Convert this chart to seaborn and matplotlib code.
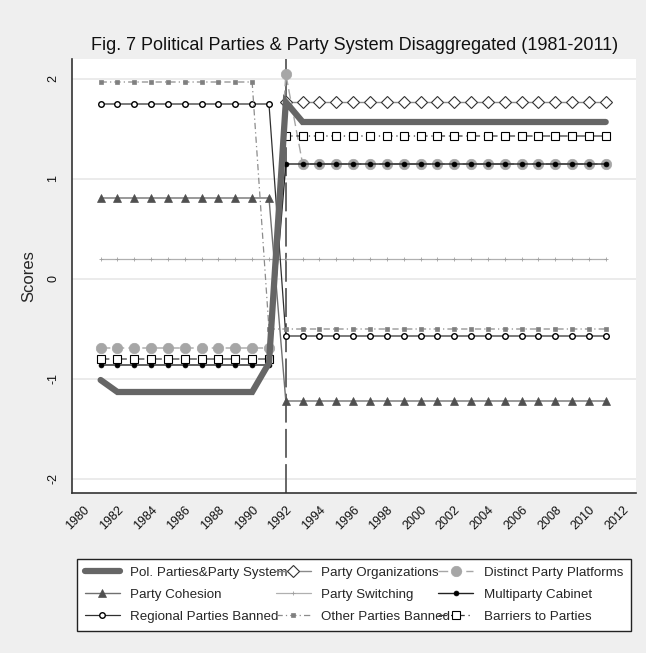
import numpy as np
import pandas as pd
import matplotlib
matplotlib.use("Agg")
import matplotlib.pyplot as plt
import seaborn as sns

years = list(range(1981, 2012))

pol_parties = [-1.01, -1.13, -1.13, -1.13, -1.13, -1.13, -1.13, -1.13, -1.13, -1.13, -0.84,
               1.77, 1.57, 1.57, 1.57, 1.57, 1.57, 1.57, 1.57, 1.57, 1.57,
               1.57, 1.57, 1.57, 1.57, 1.57, 1.57, 1.57, 1.57, 1.57, 1.57]
party_org = [np.nan, np.nan, np.nan, np.nan, np.nan, np.nan, np.nan, np.nan, np.nan, np.nan, np.nan,
             1.77, 1.77, 1.77, 1.77, 1.77, 1.77, 1.77, 1.77, 1.77, 1.77,
             1.77, 1.77, 1.77, 1.77, 1.77, 1.77, 1.77, 1.77, 1.77, 1.77]
distinct_platforms = [-0.69, -0.69, -0.69, -0.69, -0.69, -0.69, -0.69, -0.69, -0.69, -0.69, -0.69,
                      2.05, 1.15, 1.15, 1.15, 1.15, 1.15, 1.15, 1.15, 1.15, 1.15,
                      1.15, 1.15, 1.15, 1.15, 1.15, 1.15, 1.15, 1.15, 1.15, 1.15]
cohesion = [0.81, 0.81, 0.81, 0.81, 0.81, 0.81, 0.81, 0.81, 0.81, 0.81, 0.81,
            -1.22, -1.22, -1.22, -1.22, -1.22, -1.22, -1.22, -1.22, -1.22, -1.22,
            -1.22, -1.22, -1.22, -1.22, -1.22, -1.22, -1.22, -1.22, -1.22, -1.22]
switching = [0.20, 0.20, 0.20, 0.20, 0.20, 0.20, 0.20, 0.20, 0.20, 0.20, 0.20,
             0.20, 0.20, 0.20, 0.20, 0.20, 0.20, 0.20, 0.20, 0.20, 0.20,
             0.20, 0.20, 0.20, 0.20, 0.20, 0.20, 0.20, 0.20, 0.20, 0.20]
multiparty_cabinet = [-0.86, -0.86, -0.86, -0.86, -0.86, -0.86, -0.86, -0.86, -0.86, -0.86, -0.86,
                      1.15, 1.15, 1.15, 1.15, 1.15, 1.15, 1.15, 1.15, 1.15, 1.15,
                      1.15, 1.15, 1.15, 1.15, 1.15, 1.15, 1.15, 1.15, 1.15, 1.15]
regional_banned = [1.75, 1.75, 1.75, 1.75, 1.75, 1.75, 1.75, 1.75, 1.75, 1.75, 1.75,
                   -0.57, -0.57, -0.57, -0.57, -0.57, -0.57, -0.57, -0.57, -0.57, -0.57,
                   -0.57, -0.57, -0.57, -0.57, -0.57, -0.57, -0.57, -0.57, -0.57, -0.57]
other_banned = [1.97, 1.97, 1.97, 1.97, 1.97, 1.97, 1.97, 1.97, 1.97, 1.97, -0.50,
                -0.50, -0.50, -0.50, -0.50, -0.50, -0.50, -0.50, -0.50, -0.50, -0.50,
                -0.50, -0.50, -0.50, -0.50, -0.50, -0.50, -0.50, -0.50, -0.50, -0.50]
barriers = [-0.80, -0.80, -0.80, -0.80, -0.80, -0.80, -0.80, -0.80, -0.80, -0.80, -0.80,
            1.43, 1.43, 1.43, 1.43, 1.43, 1.43, 1.43, 1.43, 1.43, 1.43,
            1.43, 1.43, 1.43, 1.43, 1.43, 1.43, 1.43, 1.43, 1.43, 1.43]

x_ticks = list(range(1980, 2013, 2))
y_ticks = [-2, -1, 0, 1, 2]
event_year = 1992

df = pd.DataFrame({
    "year": years,
    "Pol. Parties&Party System": pol_parties,
    "Party Organizations": party_org,
    "Distinct Party Platforms": distinct_platforms,
    "Party Cohesion": cohesion,
    "Party Switching": switching,
    "Multiparty Cabinet": multiparty_cabinet,
    "Regional Parties Banned": regional_banned,
    "Other Parties Banned": other_banned,
    "Barriers to Parties": barriers,
})

sns.set_style("white")
plt.rcParams["font.family"] = ["Liberation Sans", "DejaVu Sans"]

bg = "#efefef"
fig = plt.figure(figsize=(6.46, 6.53), dpi=100, facecolor=bg)
ax = fig.add_axes([72 / 646, 1 - 493 / 653, (636 - 72) / 646, (493 - 59) / 653])
ax.set_facecolor("white")

# series styles: drawing order, line and marker look
styles = {
    "Party Organizations": dict(color="#8a8a8a", linewidth=1.0, marker="D", markersize=6,
                                markerfacecolor="white", markeredgecolor="#333333",
                                markeredgewidth=0.8, zorder=3),
    "Distinct Party Platforms": dict(color="#a6a6a6", linewidth=1.0, linestyle=(0, (7, 3)),
                                     marker="o", markersize=7.5, markerfacecolor="#a6a6a6",
                                     markeredgecolor="#a6a6a6", markeredgewidth=0.5, zorder=3),
    "Party Cohesion": dict(color="#707070", linewidth=1.0, marker="^", markersize=5.5,
                           markerfacecolor="#505050", markeredgecolor="#505050",
                           markeredgewidth=0.5, zorder=3),
    "Party Switching": dict(color="#b0b0b0", linewidth=0.9, marker="+", markersize=3,
                            markerfacecolor="#a0a0a0", markeredgecolor="#a0a0a0",
                            markeredgewidth=0.6, zorder=3),
    "Multiparty Cabinet": dict(color="#222222", linewidth=1.0, marker="o", markersize=3.5,
                               markerfacecolor="black", markeredgecolor="black",
                               markeredgewidth=0.5, zorder=4),
    "Regional Parties Banned": dict(color="#303030", linewidth=0.9, marker="o", markersize=4,
                                    markerfacecolor="white", markeredgecolor="black",
                                    markeredgewidth=1.0, zorder=4),
    "Other Parties Banned": dict(color="#8c8c8c", linewidth=0.9, linestyle=(0, (5, 2.5, 1, 2.5)),
                                 marker="s", markersize=3.5, markerfacecolor="#808080",
                                 markeredgecolor="#808080", markeredgewidth=0.5, zorder=4),
    "Barriers to Parties": dict(color="#3a3a3a", linewidth=0.9, linestyle=(0, (7, 3, 1, 3)),
                                marker="s", markersize=5.5, markerfacecolor="white",
                                markeredgecolor="black", markeredgewidth=0.8, zorder=4),
    "Pol. Parties&Party System": dict(color="#666666", linewidth=4.5, solid_capstyle="round",
                                      solid_joinstyle="miter", zorder=5),
}

# horizontal grid at the labelled scores
for yv in y_ticks:
    ax.axhline(yv, color="#e6e6e6", linewidth=1.1, zorder=1)

ax.axvline(event_year, color="#5a5a5a", linewidth=1.3, linestyle=(0, (16, 3.5)), zorder=2)

for name, kw in styles.items():
    sub = df[["year", name]].dropna()
    sns.lineplot(data=sub, x="year", y=name, ax=ax, label=name, estimator=None,
                 sort=False, **kw)

ax.set_xlim(1979.3, 2012.8)
ax.set_ylim(-2.14, 2.2)
ax.set_xticks(x_ticks)
ax.set_yticks(y_ticks)
ax.set_xticklabels([str(t) for t in x_ticks], rotation=45, ha="right",
                   rotation_mode="anchor", fontsize=9)
ax.set_yticklabels([str(t) for t in y_ticks], rotation=90, va="center", fontsize=9)
ax.tick_params(axis="both", direction="out", length=6, width=1, color="#333333",
               labelcolor="#111111", pad=3)
ax.tick_params(axis="x", pad=2)
for side in ("top", "right"):
    ax.spines[side].set_visible(False)
for side in ("left", "bottom"):
    ax.spines[side].set_color("#333333")
    ax.spines[side].set_linewidth(1.2)

ax.set_xlabel("")
ax.set_ylabel("Scores", fontsize=12, labelpad=8)
fig.text(0.5495, 1 - 46 / 653, "Fig. 7 Political Parties & Party System Disaggregated (1981-2011)",
         ha="center", va="center", fontsize=13, color="#111111")

# legend laid out row by row in three columns
row_order = ["Pol. Parties&Party System", "Party Organizations", "Distinct Party Platforms",
             "Party Cohesion", "Party Switching", "Multiparty Cabinet",
             "Regional Parties Banned", "Other Parties Banned", "Barriers to Parties"]
handles, labels = ax.get_legend_handles_labels()
lookup = dict(zip(labels, handles))
col_order = [row_order[r * 3 + c] for c in range(3) for r in range(3)]
leg = ax.legend([lookup[n] for n in col_order], col_order, ncol=3, fontsize=9.6,
                loc="upper center", bbox_to_anchor=(354 / 646, 1 - 552 / 653),
                bbox_transform=fig.transFigure, frameon=True, fancybox=False,
                edgecolor="#222222", facecolor="white", framealpha=1,
                handlelength=2.6, handletextpad=0.8, columnspacing=-0.9,
                labelspacing=0.72, borderpad=0.6)
leg.get_frame().set_linewidth(1.0)

fig.savefig("out.png", dpi=100, facecolor=bg)
